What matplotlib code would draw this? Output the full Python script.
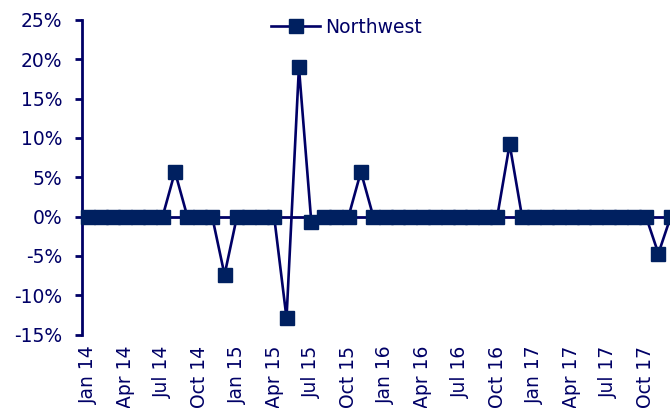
import matplotlib.pyplot as plt

# Monthly change, Jan 2014 - Dec 2017 (percent)
months = ['Jan 14', 'Feb 14', 'Mar 14', 'Apr 14', 'May 14', 'Jun 14', 'Jul 14', 'Aug 14',
          'Sep 14', 'Oct 14', 'Nov 14', 'Dec 14', 'Jan 15', 'Feb 15', 'Mar 15', 'Apr 15',
          'May 15', 'Jun 15', 'Jul 15', 'Aug 15', 'Sep 15', 'Oct 15', 'Nov 15', 'Dec 15',
          'Jan 16', 'Feb 16', 'Mar 16', 'Apr 16', 'May 16', 'Jun 16', 'Jul 16', 'Aug 16',
          'Sep 16', 'Oct 16', 'Nov 16', 'Dec 16', 'Jan 17', 'Feb 17', 'Mar 17', 'Apr 17',
          'May 17', 'Jun 17', 'Jul 17', 'Aug 17', 'Sep 17', 'Oct 17', 'Nov 17', 'Dec 17']
northwest = [0, 0, 0, 0, 0, 0, 0, 5.7,
             0, 0, 0, -7.4, 0, 0, 0, 0,
             -12.9, 19.0, -0.7, 0, 0, 0, 5.7, 0,
             0, 0, 0, 0, 0, 0, 0, 0,
             0, 0, 9.2, 0, 0, 0, 0, 0,
             0, 0, 0, 0, 0, 0, -4.7, 0]
y_ticks = [-15, -10, -5, 0, 5, 10, 15, 20, 25]

navy = '#000066'
marker_blue = '#002060'

fig = plt.figure(figsize=(6.7, 4.08), dpi=100)
ax = fig.add_axes([0.1224, 0.180, 0.888, 0.771])

x = list(range(len(months)))
ax.axhline(0, color=navy, linewidth=2.0, zorder=1)
ax.plot(x, northwest, color=navy, linewidth=1.9, marker='s', markersize=10.5,
        markerfacecolor=marker_blue, markeredgecolor=marker_blue,
        label='Northwest', zorder=3, clip_on=False)

ax.set_xlim(-0.5, len(months) - 0.5)
ax.set_ylim(-15, 25)
ax.set_yticks(y_ticks)
ax.set_yticklabels([f'{v}%' for v in y_ticks])
ax.set_xticks(x[::3])
ax.set_xticklabels(months[::3], rotation=90)

for side in ['top', 'right', 'bottom']:
    ax.spines[side].set_visible(False)
ax.spines['left'].set_color(navy)
ax.spines['left'].set_linewidth(2.0)

ax.tick_params(axis='y', colors=navy, labelsize=13.5, length=5, width=2, pad=9)
ax.tick_params(axis='x', colors=navy, labelsize=13.5, length=0, pad=8)

leg = ax.legend(loc='upper center', bbox_to_anchor=(0.445, 1.03), frameon=False,
                fontsize=13.5, handlelength=2.6, handletextpad=0.3, borderaxespad=0)
for t in leg.get_texts():
    t.set_color(navy)

fig.savefig('out.png', dpi=100)
